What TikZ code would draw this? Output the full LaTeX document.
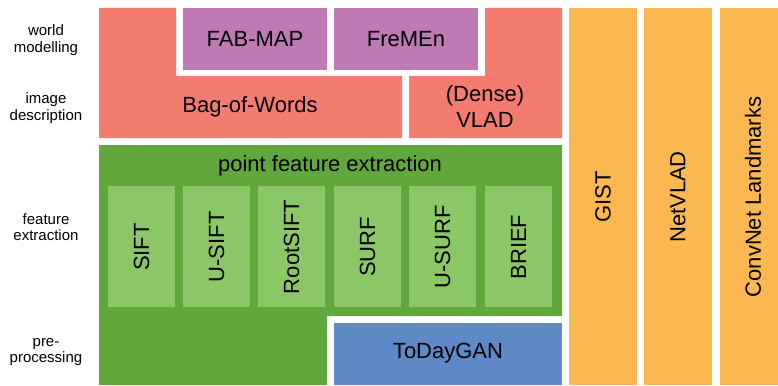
\documentclass[tikz,border=0pt]{standalone}
\usepackage{fontspec}
\setmainfont{Liberation Sans}
\definecolor{wmred}{HTML}{F47B70}
\definecolor{wmpurple}{HTML}{BD7AB5}
\definecolor{fedark}{HTML}{62A73B}
\definecolor{felight}{HTML}{8BC766}
\definecolor{ppblue}{HTML}{5E88C6}
\definecolor{cnnorange}{HTML}{FCB850}
\tikzset{
  side/.style={align=center, font=\fontsize{15}{16.5}\selectfont},
  big/.style={align=center, font=\fontsize{22}{26}\selectfont},
  vert/.style={big, rotate=90},
}
\begin{document}
\begin{tikzpicture}[x=1pt,y=-1pt]
\useasboundingbox (0,0) rectangle (778,385);
% layer names
\node[side] (lwm) at (46,40) {world\\modelling};
\node[side] (lid) at (46,108) {image\\description};
\node[side] (lfe) at (46,227) {feature\\extraction};
\node[side] (lpp) at (46,352) {pre-\\processing};
% image description
\fill[wmred] (99,8) -- (176,8) -- (176,76) -- (402,76) -- (402,138) -- (99,138) -- cycle;
\node[big] (bow) at (250,107) {Bag-of-Words};
\fill[wmred] (485,8) -- (562,8) -- (562,138) -- (409,138) -- (409,76) -- (485,76) -- cycle;
\node[big] (vlad) at (485,107) {(Dense)\\VLAD};
% world modelling
\fill[wmpurple] (183,8) rectangle (327,70);
\node[big] (fabmap) at (255,39) {FAB-MAP};
\fill[wmpurple] (334,8) rectangle (478,70);
\node[big] (fremen) at (406,39) {FreMEn};
% feature extraction
\fill[fedark] (99,145) -- (562,145) -- (562,316) -- (327,316) -- (327,385) -- (99,385) -- cycle;
\node[big] (pfe) at (330,166) {point feature extraction};
\foreach \x/\name/\txt in {108/sift/SIFT, 183/usift/U-SIFT, 258/rootsift/RootSIFT,
    334/surf/SURF, 409/usurf/U-SURF, 485/brief/BRIEF} {
  \fill[felight] (\x,186) rectangle ++(67,121);
  \node[vert] (\name) at (\x+33.5,247) {\txt};
}
% pre-processing
\fill[ppblue] (334,323) rectangle (562,385);
\node[big] (todaygan) at (448,353) {ToDayGAN};
% holistic
\fill[cnnorange] (569,8) rectangle (637,385);
\node[vert] (gist) at (603,197) {GIST};
\fill[cnnorange] (644,8) rectangle (712,385);
\node[vert] (netvlad) at (678,197) {NetVLAD};
\fill[cnnorange] (720,8) rectangle (778,385);
\node[vert] (convnet) at (753,197) {ConvNet Landmarks};
\end{tikzpicture}
\end{document}
